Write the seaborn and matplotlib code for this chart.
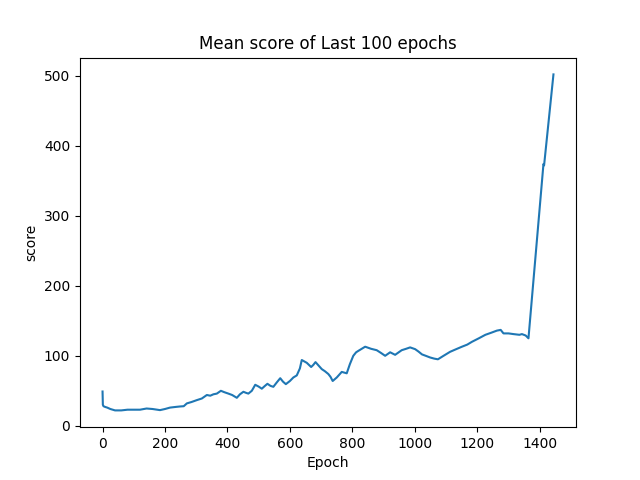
import matplotlib
matplotlib.use("Agg")
import matplotlib.pyplot as plt
import seaborn as sns
import pandas as pd

epochs = [0, 1, 3, 8, 15, 25, 40, 60, 80, 100, 120, 141, 160, 184, 200, 216, 235, 248, 260, 270,
          285, 302, 318, 334, 345, 355, 366, 379, 390, 403, 415, 430, 440, 451, 460, 467, 478, 489,
          500, 510, 520, 528, 538, 547, 558, 569, 578, 587, 600, 611, 622, 632, 638, 646, 654, 668,
          675, 682, 692, 702, 712, 723, 730, 737, 750, 766, 782, 792, 803, 812, 819, 830, 841, 860,
          878, 892, 905, 921, 937, 958, 972, 985, 1001, 1012, 1023, 1035, 1049, 1062, 1074, 1092,
          1113, 1130, 1151, 1168, 1183, 1205, 1226, 1245, 1263, 1275, 1284, 1300, 1316, 1335,
          1343, 1355, 1364, 1412, 1414, 1444]
scores = [49, 30, 28, 27, 26, 24, 22, 22, 23, 23, 23, 24.7, 24, 22.4, 24, 26, 27, 27.6, 28, 32,
          34, 36.7, 39, 44, 43, 45, 46, 50, 48, 46, 44, 40, 45, 48.6, 47, 46, 50, 58.6,
          56, 53, 57, 60, 57, 55.7, 62, 68, 63, 59.5, 64, 69, 72, 82, 94, 92, 90, 84,
          87, 91, 86, 81, 78, 74, 70, 64, 69, 77, 75, 88, 100, 105, 107, 110, 113, 110,
          108, 104, 100, 105, 101.4, 108, 110, 112, 109.5, 106, 102, 100, 97.6, 96, 95, 100,
          105.7, 109, 113, 116, 120, 125, 130, 133, 136, 137, 132, 132, 131, 130,
          131, 129, 125, 374, 372, 502]

df = pd.DataFrame({"Epoch": epochs, "score": scores})

fig, ax = plt.subplots(figsize=(6.4, 4.8), dpi=100)
sns.lineplot(data=df, x="Epoch", y="score", ax=ax, color="#1f77b4", linewidth=1.5)
ax.set_title("Mean score of Last 100 epochs")
ax.set_xlabel("Epoch")
ax.set_ylabel("score")
fig.savefig("out.png", dpi=100)
